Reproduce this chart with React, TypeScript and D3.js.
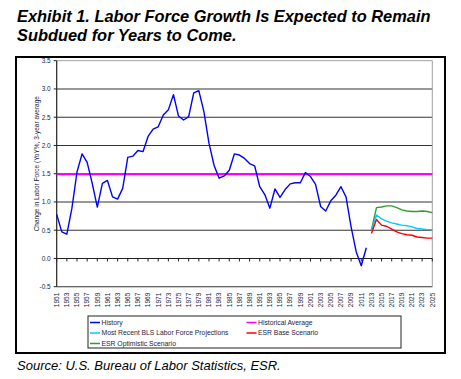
import React from "react";
import * as d3 from "d3";

const historyStart = 1951;
const historyValues = [
  0.78, 0.47, 0.43, 0.89, 1.53, 1.85, 1.7, 1.33, 0.91, 1.33,
  1.38, 1.09, 1.05, 1.24, 1.79, 1.81, 1.91, 1.89, 2.16, 2.29,
  2.33, 2.54, 2.63, 2.9, 2.52, 2.45, 2.51, 2.93, 2.97, 2.6,
  2.04, 1.65, 1.42, 1.46, 1.56, 1.85, 1.83, 1.77, 1.68, 1.64,
  1.27, 1.13, 0.89, 1.23, 1.08, 1.22, 1.32, 1.34, 1.34, 1.52,
  1.45, 1.31, 0.92, 0.84, 1.02, 1.12, 1.27, 1.09, 0.56, 0.12,
  -0.13, 0.19,
];
const projectionStart = 2013;
const blsValues = [0.5, 0.77, 0.7, 0.66, 0.63, 0.61, 0.59, 0.58, 0.56, 0.53, 0.52, 0.51, 0.51];
const baseValues = [0.44, 0.69, 0.59, 0.57, 0.52, 0.47, 0.44, 0.42, 0.41, 0.38, 0.37, 0.36, 0.36];
const optimisticValues = [0.5, 0.9, 0.91, 0.93, 0.93, 0.9, 0.86, 0.84, 0.83, 0.83, 0.84, 0.83, 0.81];
const historicalAverage = 1.49;
const firstYear = 1951;
const lastYear = 2025;
const yTicks = [-0.5, 0, 0.5, 1, 1.5, 2, 2.5, 3, 3.5];
const xTickYears = d3.range(1951, 2026, 2);

const legendItems = [
  { label: "History", color: "#0000ff" },
  { label: "Historical Average", color: "#ff00ff" },
  { label: "Most Recent BLS Labor Force Projections", color: "#00ccff" },
  { label: "ESR Base Scenario", color: "#ff0000" },
  { label: "ESR Optimistic Scenario", color: "#339933" },
];

const textColor = "#1c1c40";
const font = "'Liberation Sans', Arial, sans-serif";

export default function App() {
  const x = d3.scaleLinear().domain([firstYear, lastYear]).range([56.7, 432.3]);
  const y = d3.scaleLinear().domain([-0.5, 3.5]).range([286.7, 60.7]);
  const line = d3
    .line<[number, number]>()
    .x((d) => x(d[0]))
    .y((d) => y(d[1]));
  const toPts = (start: number, vals: number[]) =>
    vals.map((v, i) => [start + i, v] as [number, number]);

  const series = [
    { pts: toPts(historyStart, historyValues), color: "#0000ff", w: 1.4 },
    { pts: toPts(projectionStart, optimisticValues), color: "#339933", w: 1.4 },
    { pts: toPts(projectionStart, blsValues), color: "#00ccff", w: 1.4 },
    { pts: toPts(projectionStart, baseValues), color: "#ff0000", w: 1.4 },
  ];

  const x0 = x(firstYear);
  const x1 = x(lastYear);
  const yTop = y(3.5);
  const yBot = y(-0.5);
  const yZero = y(0);

  const legendX = 88;
  const legendY = 316;
  const colX = [90, 246.5];
  const rowY = [322.5, 333, 343.5];

  return (
    <svg
      width={461}
      height={379}
      style={{ position: "absolute", left: 0, top: 0, background: "#fff" }}
      fontFamily={font}
    >
      <rect width={461} height={379} fill="#fff" />
      <text x={17} y={22} fontSize={16.4} fontWeight="bold" fontStyle="italic" fill="#000">
        Exhibit 1. Labor Force Growth Is Expected to Remain
      </text>
      <text x={17} y={41} fontSize={16.4} fontWeight="bold" fontStyle="italic" fill="#000">
        Subdued for Years to Come.
      </text>
      <rect x={16} y={57} width={429} height={296} fill="none" stroke="#000" strokeWidth={2} />

      {/* gridlines */}
      {yTicks.filter((t) => t < 3.5).map((t) => (
        <line key={t} x1={x0} x2={x1} y1={y(t)} y2={y(t)} stroke="#333" strokeWidth={1.1} />
      ))}
      <line x1={x0} x2={x1} y1={yTop} y2={yTop} stroke="#a0a0a0" strokeWidth={1} />
      <line x1={x1} x2={x1} y1={yTop} y2={yBot} stroke="#a0a0a0" strokeWidth={1} />

      {/* y axis */}
      <line x1={x0} x2={x0} y1={yTop} y2={yBot} stroke="#222" strokeWidth={1.2} />
      {yTicks.map((t) => (
        <g key={t}>
          <line x1={x0 - 3} x2={x0} y1={y(t)} y2={y(t)} stroke="#222" />
          <text x={x0 - 6} y={y(t) + 2.3} fontSize={6.5} textAnchor="end" fill={textColor}>
            {t.toFixed(1)}
          </text>
        </g>
      ))}
      <text
        transform={`translate(38.5, ${(yTop + yBot) / 2 - 10}) rotate(-90)`}
        fontSize={6.5}
        textAnchor="middle"
        fill={textColor}
      >
        Change in Labor Force (YoY%, 3-year average
      </text>

      {/* x axis at zero */}
      <line x1={x0} x2={x1} y1={yZero} y2={yZero} stroke="#222" strokeWidth={1.1} />
      {xTickYears.map((yr) => (
        <line key={yr} x1={x(yr)} x2={x(yr)} y1={yZero} y2={yZero + 3} stroke="#222" />
      ))}
      {xTickYears.map((yr) => (
        <text
          key={yr}
          transform={`translate(${x(yr) + 2.3}, ${yBot + 6}) rotate(-90)`}
          fontSize={6.5}
          textAnchor="end"
          fill={textColor}
        >
          {yr}
        </text>
      ))}

      {/* historical average */}
      <line
        x1={x0}
        x2={x1}
        y1={y(historicalAverage)}
        y2={y(historicalAverage)}
        stroke="#ff00ff"
        strokeWidth={2}
      />

      {series.map((s, i) => (
        <path key={i} d={line(s.pts) || ""} fill="none" stroke={s.color} strokeWidth={s.w} strokeLinejoin="round" />
      ))}

      {/* legend */}
      <rect x={legendX} y={legendY} width={313} height={32} fill="#fff" stroke="#222" strokeWidth={1} />
      {legendItems.map((it, i) => {
        const cx = colX[i % 2];
        const cy = rowY[Math.floor(i / 2)];
        return (
          <g key={it.label}>
            <line x1={cx} x2={cx + 10} y1={cy} y2={cy} stroke={it.color} strokeWidth={1.5} />
            <text x={cx + 11.5} y={cy + 2.4} fontSize={6.8} fill={textColor}>
              {it.label}
            </text>
          </g>
        );
      })}

      <text x={17} y={370} fontSize={13} fontStyle="italic" fill="#000">
        Source: U.S. Bureau of Labor Statistics, ESR.
      </text>
    </svg>
  );
}
